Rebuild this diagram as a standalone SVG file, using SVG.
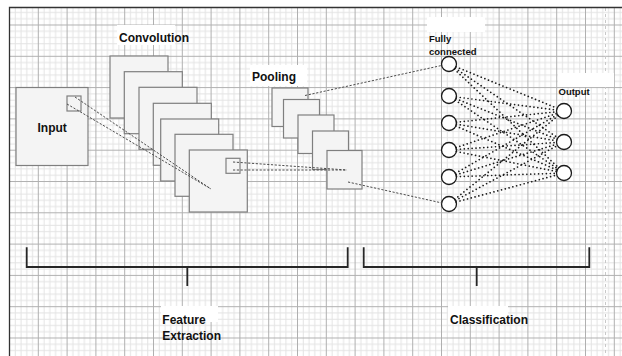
<svg xmlns="http://www.w3.org/2000/svg" width="622" height="356" viewBox="0 0 622 356">
<style>
.box{fill:#f4f4f4;stroke:#7f7f7f;stroke-width:1.2}
.small{fill:none;stroke:#7f7f7f;stroke-width:1.2}
.neuron{fill:#fff;stroke:#1a1a1a;stroke-width:1.3}
.lbl{font-family:"Liberation Sans",Arial,sans-serif;font-weight:bold;fill:#111}
.bg{fill:#fff}
.dash{fill:none;stroke:#4d4d4d;stroke-width:1;stroke-dasharray:2.2 1.6}
.dot{fill:none;stroke:#1a1a1a;stroke-width:1.7;stroke-linecap:round;stroke-dasharray:0.01 3.9}
.brk{fill:none;stroke:#262626;stroke-width:1.8}
</style>
<defs>
<pattern id="grid" patternUnits="userSpaceOnUse" x="9" y="-6.8" width="28.8" height="31.3">
<g fill="#e3e3e3">
<rect x="5.76" y="0" width="1" height="31.3"/>
<rect x="11.52" y="0" width="1" height="31.3"/>
<rect x="17.28" y="0" width="1" height="31.3"/>
<rect x="23.04" y="0" width="1" height="31.3"/>
<rect x="0" y="6.26" width="28.8" height="1"/>
<rect x="0" y="12.52" width="28.8" height="1"/>
<rect x="0" y="18.78" width="28.8" height="1"/>
<rect x="0" y="25.04" width="28.8" height="1"/>
</g>
<g fill="#b0b0b0">
<rect x="0" y="0" width="1" height="31.3"/>
<rect x="0" y="0" width="28.8" height="1"/>
</g>
</pattern>
</defs>
<rect width="622" height="356" fill="#fff"/>
<rect x="9" y="7" width="613" height="349" fill="url(#grid)"/>
<line x1="605.5" y1="8" x2="605.5" y2="356" stroke="#c8c8c8" stroke-width="1" stroke-dasharray="3 3"/>
<path d="M9.5,356 V7.5 H622" fill="none" stroke="#333" stroke-width="1.3"/>

<g id="label-backgrounds">
<rect class="bg" x="117" y="25" width="58" height="20"/>
<rect class="bg" x="250" y="65" width="57" height="21"/>
<rect class="bg" x="427" y="17" width="58" height="15"/>
<rect class="bg" x="558" y="73" width="56" height="14"/>
<rect class="bg" x="161" y="306" width="57" height="16"/>
<rect class="bg" x="448" y="306" width="60" height="18"/>
</g>

<g id="input">
<rect class="box" x="16" y="87.5" width="72" height="78"/>
<rect class="small" x="67" y="96" width="14" height="15"/>
<text class="lbl" x="37.5" y="131.5" font-size="12">Input</text>
</g>

<g id="convolution">
<rect class="box" x="110" y="56" width="58" height="62"/>
<rect class="box" x="124.3" y="71.7" width="58" height="62"/>
<rect class="box" x="139" y="87.3" width="58" height="62"/>
<rect class="box" x="153.3" y="103.3" width="58" height="62"/>
<rect class="box" x="160.7" y="119" width="58" height="62"/>
<rect class="box" x="175" y="134.3" width="58" height="62"/>
<rect class="box" x="189.3" y="150" width="58" height="62"/>
<rect class="small" x="226" y="158.3" width="14" height="15"/>
<text class="lbl" x="119" y="42" font-size="12">Convolution</text>
</g>

<g id="pooling">
<rect class="box" x="272" y="88" width="36" height="38.5"/>
<rect class="box" x="283.5" y="99.5" width="36" height="38.5"/>
<rect class="box" x="298" y="115" width="36" height="38.5"/>
<rect class="box" x="312.5" y="131" width="36" height="38.5"/>
<rect class="box" x="327" y="150.5" width="35" height="38.5"/>
<text class="lbl" x="252" y="81" font-size="12">Pooling</text>
</g>

<g id="fully-connected">
<circle class="neuron" cx="449" cy="64" r="7.5"/>
<circle class="neuron" cx="449" cy="96" r="7.5"/>
<circle class="neuron" cx="449" cy="123" r="7.5"/>
<circle class="neuron" cx="449" cy="150" r="7.5"/>
<circle class="neuron" cx="449" cy="177" r="7.5"/>
<circle class="neuron" cx="449" cy="204" r="7.5"/>
<text class="lbl" font-size="9.5"><tspan x="429" y="42">Fully</tspan><tspan x="429" y="55">connected</tspan></text>
</g>

<g id="output">
<circle class="neuron" cx="564" cy="111" r="7.5"/>
<circle class="neuron" cx="564" cy="142" r="7.5"/>
<circle class="neuron" cx="564" cy="173" r="7.5"/>
<text class="lbl" x="558.5" y="95" font-size="9.5">Output</text>
</g>

<g id="feature-extraction">
<path class="brk" d="M26.7,247.3 V267 H347.7 V247.3 M187.3,267 V286"/>
<text class="lbl" font-size="12"><tspan x="162.3" y="323.5">Feature</tspan><tspan x="162.3" y="339.5">Extraction</tspan></text>
</g>

<g id="classification">
<path class="brk" d="M363.7,247.3 V267 H589.3 V247.3 M476.7,267 V286"/>
<text class="lbl" x="450" y="323.5" font-size="12">Classification</text>
</g>

<g id="connectors">
<line class="dash" x1="75" y1="97" x2="211" y2="189"/>
<line class="dash" x1="67" y1="104" x2="211" y2="189"/>
<line class="dash" x1="233" y1="162" x2="347" y2="170"/>
<line class="dash" x1="233" y1="170" x2="347" y2="170"/>
<line class="dash" x1="305" y1="95.5" x2="441.5" y2="65.5"/>
<line class="dash" x1="348" y1="182" x2="442" y2="203"/>
<line class="dot" x1="455.9" y1="66.8" x2="557.1" y2="108.2"/>
<line class="dot" x1="455.2" y1="68.2" x2="557.8" y2="137.8"/>
<line class="dot" x1="454.4" y1="69.2" x2="558.6" y2="167.8"/>
<line class="dot" x1="456.4" y1="97" x2="556.6" y2="110"/>
<line class="dot" x1="456" y1="98.8" x2="557" y2="139.2"/>
<line class="dot" x1="455.2" y1="100.2" x2="557.8" y2="168.8"/>
<line class="dot" x1="456.5" y1="122.2" x2="556.5" y2="111.8"/>
<line class="dot" x1="456.4" y1="124.2" x2="556.6" y2="140.8"/>
<line class="dot" x1="455.9" y1="126" x2="557.1" y2="170"/>
<line class="dot" x1="456.1" y1="147.6" x2="556.9" y2="113.4"/>
<line class="dot" x1="456.5" y1="149.5" x2="556.5" y2="142.5"/>
<line class="dot" x1="456.4" y1="151.5" x2="556.6" y2="171.5"/>
<line class="dot" x1="455.5" y1="173.3" x2="557.5" y2="114.7"/>
<line class="dot" x1="456.2" y1="174.8" x2="556.8" y2="144.2"/>
<line class="dot" x1="456.5" y1="176.7" x2="556.5" y2="173.3"/>
<line class="dot" x1="454.8" y1="199.3" x2="558.2" y2="115.7"/>
<line class="dot" x1="455.6" y1="200.4" x2="557.4" y2="145.6"/>
<line class="dot" x1="456.2" y1="202" x2="556.8" y2="175"/>
</g>
</svg>
